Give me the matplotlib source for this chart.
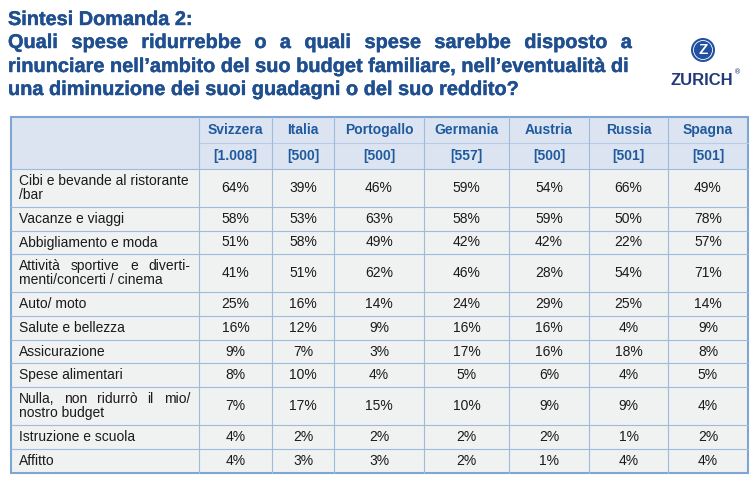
import matplotlib
matplotlib.use("Agg")
import matplotlib.pyplot as plt
import matplotlib.patheffects as pe
from matplotlib import font_manager
from matplotlib.patches import Rectangle, Circle

# --- data -------------------------------------------------------------
title_top = "Sintesi Domanda 2:"
title_lines = [
    "Quali spese ridurrebbe o a quali spese sarebbe disposto a",
    "rinunciare nell\u2019ambito del suo budget familiare, nell\u2019eventualit\u00e0 di",
    "una diminuzione dei suoi guadagni o del suo reddito?",
]
countries = ["Svizzera", "Italia", "Portogallo", "Germania", "Austria", "Russia", "Spagna"]
sample_sizes = ["[1.008]", "[500]", "[500]", "[557]", "[500]", "[501]", "[501]"]
categories = [
    ["Cibi e bevande al ristorante", "/bar"],
    ["Vacanze e viaggi"],
    ["Abbigliamento e moda"],
    ["Attivit\u00e0 sportive e diverti-", "menti/concerti / cinema"],
    ["Auto/ moto"],
    ["Salute e bellezza"],
    ["Assicurazione"],
    ["Spese alimentari"],
    ["Nulla, non ridurr\u00f2 il mio/", "nostro budget"],
    ["Istruzione e scuola"],
    ["Affitto"],
]
svizzera = [64, 58, 51, 41, 25, 16, 9, 8, 7, 4, 4]
italia = [39, 53, 58, 51, 16, 12, 7, 10, 17, 2, 3]
portogallo = [46, 63, 49, 62, 14, 9, 3, 4, 15, 2, 3]
germania = [59, 58, 42, 46, 24, 16, 17, 5, 10, 2, 2]
austria = [54, 59, 42, 28, 29, 16, 16, 6, 9, 2, 1]
russia = [66, 50, 22, 54, 25, 4, 18, 4, 9, 1, 4]
spagna = [49, 78, 57, 71, 14, 9, 8, 5, 4, 2, 4]
values = [svizzera, italia, portogallo, germania, austria, russia, spagna]

# --- layout (pixels) --------------------------------------------------
W, H = 755, 482
col_x = [11, 199, 272, 334, 424, 509, 589, 668, 748]
row_y = [117, 143, 169, 207, 231, 254, 292, 316, 340, 363, 387, 425, 449, 473]

TITLE_C = "#1F4F8F"
HEAD_C = "#1F5A9E"
HEAD_BG = "#DCE4F2"
BODY_BG = "#F0F1F1"
GRID_C = "#9DBBDD"
BORDER_C = "#7FA6D3"

names = {f.name for f in font_manager.fontManager.ttflist}
title_font = "Liberation Sans Narrow" if "Liberation Sans Narrow" in names else "Liberation Sans"
body_font = "Liberation Sans"

fig = plt.figure(figsize=(W / 100, H / 100), dpi=100)
ax = fig.add_axes([0, 0, 1, 1])
ax.set_xlim(0, W)
ax.set_ylim(H, 0)
ax.axis("off")
renderer = fig.canvas.get_renderer()


def text_width(s, **kw):
    t = ax.text(0, 0, s, **kw)
    w = t.get_window_extent(renderer).width
    t.remove()
    return w


def justified(words, x0, x1, y, **kw):
    widths = [text_width(w, **kw) for w in words]
    gap = (x1 - x0 - sum(widths)) / max(len(words) - 1, 1)
    x = x0
    for w, wd in zip(words, widths):
        ax.text(x, y, w, ha="left", **kw)
        x += wd + gap


# --- title ------------------------------------------------------------
tkw = dict(family=title_font, weight="bold", color=TITLE_C, va="baseline")
w_ref = text_width(title_lines[1], fontsize=14, **tkw)
tsize = 14 * (630 - 8) / w_ref
w0 = text_width(title_top, fontsize=14, **tkw)
tkw["path_effects"] = [pe.withStroke(linewidth=0.3, foreground=TITLE_C)]
ax.text(8, 25, title_top, fontsize=14 * 185 / w0, **tkw)
justified(title_lines[0].split(), 8, 632, 48, fontsize=tsize, **tkw)
ax.text(8, 72, title_lines[1], fontsize=tsize, **tkw)
ax.text(8, 95, title_lines[2], fontsize=tsize, **tkw)

# --- logo -------------------------------------------------------------
ax.add_patch(Circle((703, 50), 12, facecolor="#2150A0", edgecolor="none"))
ax.add_patch(Circle((703, 50), 9.5, facecolor="none", edgecolor="white", lw=0.6))
ax.text(703, 50.5, "Z", ha="center", va="center", color="white",
        fontsize=11, weight="bold", family=body_font)
ax.text(702, 85, "ZURICH", ha="center", va="baseline", color="#23397A",
        fontsize=12, weight="bold", family=body_font)
ax.text(738, 72, "\u00ae", ha="center", va="center", color="#23397A", fontsize=5)

# --- table backgrounds ------------------------------------------------
ax.add_patch(Rectangle((col_x[0], row_y[0]), col_x[-1] - col_x[0], row_y[2] - row_y[0],
                       facecolor=HEAD_BG, edgecolor="none"))
ax.add_patch(Rectangle((col_x[0], row_y[2]), col_x[-1] - col_x[0], row_y[-1] - row_y[2],
                       facecolor=BODY_BG, edgecolor="none"))

# grid lines
for y in row_y[1:-1]:
    if y == row_y[1]:
        ax.plot([col_x[1], col_x[-1]], [y, y], color="#B8CCE6", lw=0.8)
    else:
        ax.plot([col_x[0], col_x[-1]], [y, y], color=GRID_C, lw=0.8)
for x in col_x[1:-1]:
    ax.plot([x, x], [row_y[0], row_y[-1]], color=GRID_C, lw=0.8)
ax.add_patch(Rectangle((col_x[0], row_y[0]), col_x[-1] - col_x[0], row_y[-1] - row_y[0],
                       facecolor="none", edgecolor=BORDER_C, lw=1.5))

# --- header text ------------------------------------------------------
hkw = dict(family=body_font, weight="bold", color=HEAD_C, fontsize=10,
           ha="center", va="center")
for j, (c, n) in enumerate(zip(countries, sample_sizes)):
    cx = (col_x[j + 1] + col_x[j + 2]) / 2
    ax.text(cx, (row_y[0] + row_y[1]) / 2, c, **hkw)
    ax.text(cx, (row_y[1] + row_y[2]) / 2, n, **hkw)

# --- body -------------------------------------------------------------
bkw = dict(family=body_font, color="#1A1A1A", fontsize=10, va="center")
for i, lab in enumerate(categories):
    cy = (row_y[i + 2] + row_y[i + 3]) / 2
    if len(lab) == 1:
        ax.text(19, cy, lab[0], ha="left", **bkw)
    else:
        if lab[0].endswith("diverti-") or lab[0].startswith("Nulla"):
            justified(lab[0].split(), 19, 190, cy - 7, **bkw)
        else:
            ax.text(19, cy - 7, lab[0], ha="left", **bkw)
        ax.text(19, cy + 7, lab[1], ha="left", **bkw)
    for j, col in enumerate(values):
        cx = (col_x[j + 1] + col_x[j + 2]) / 2
        ax.text(cx, cy, f"{col[i]}%", ha="center", **bkw)

fig.savefig("out.png", dpi=100)
